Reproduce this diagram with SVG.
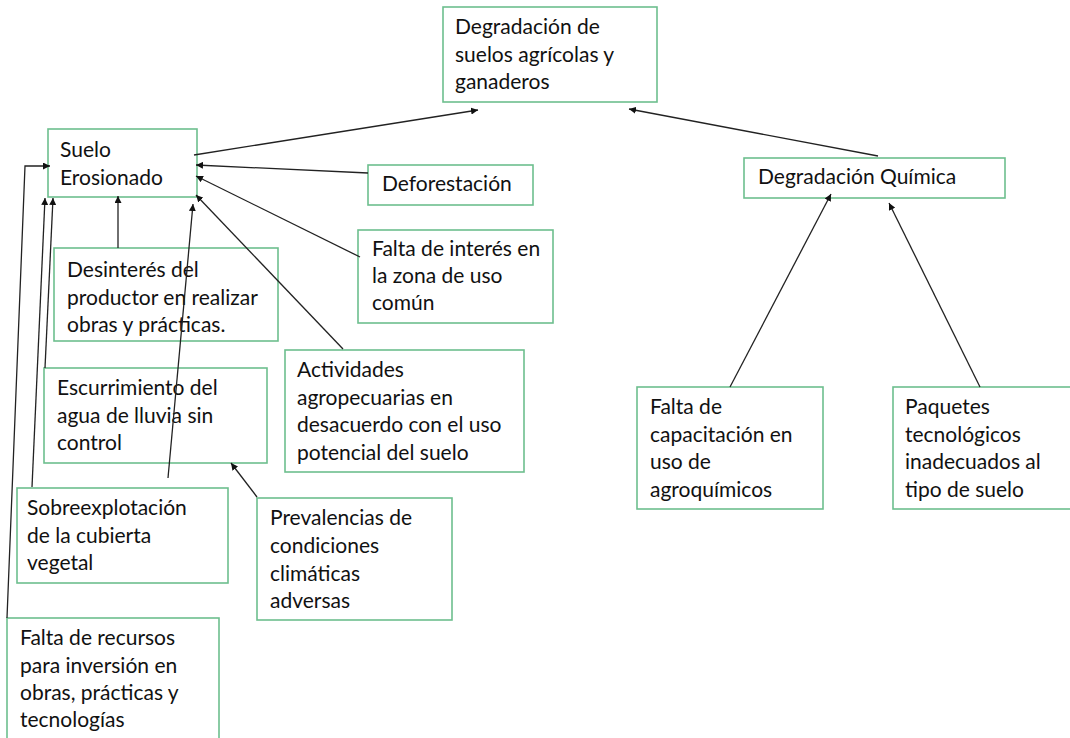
<svg xmlns="http://www.w3.org/2000/svg" width="1070" height="738" viewBox="0 0 1070 738">
<defs>
<marker id="ah" viewBox="0 0 10 10" refX="10" refY="5" markerWidth="7" markerHeight="7" orient="auto-start-reverse" markerUnits="userSpaceOnUse">
<path d="M0,0 L10,5 L0,10 z" fill="#111"/>
</marker>
<style>
.box{fill:#fff;stroke:#6dbf8e;stroke-width:1.6}
.t{font-family:Lato,"Open Sans","Liberation Sans",sans-serif;font-size:21px;fill:#111}
.c{fill:none;stroke:#222;stroke-width:1.3;marker-end:url(#ah)}
.n{fill:none;stroke:#222;stroke-width:1.3}
</style>
</defs>
<rect width="1070" height="738" fill="#fff"/>
<g id="n-top"><rect class="box" x="443" y="7" width="214" height="95"/>
<text class="t" x="455"><tspan x="455" y="34">Degradación de</tspan><tspan x="455" y="62">suelos agrícolas y</tspan><tspan x="455" y="89">ganaderos</tspan></text></g>
<g id="n-suelo"><rect class="box" x="48" y="129" width="149" height="68"/>
<text class="t"><tspan x="60" y="157">Suelo</tspan><tspan x="60" y="185">Erosionado</tspan></text></g>
<g id="n-defor"><rect class="box" x="368" y="165" width="165" height="40"/>
<text class="t" x="382" y="191">Deforestación</text></g>
<g id="n-interes"><rect class="box" x="358" y="230" width="195" height="93"/>
<text class="t"><tspan x="372" y="256">Falta de interés en</tspan><tspan x="372" y="283">la zona de uso</tspan><tspan x="372" y="310">común</tspan></text></g>
<g id="n-desin"><rect class="box" x="54" y="248" width="224" height="93"/>
<text class="t"><tspan x="67" y="277">Desinterés del</tspan><tspan x="67" y="305">productor en realizar</tspan><tspan x="67" y="332">obras y prácticas.</tspan></text></g>
<g id="n-escur"><rect class="box" x="44" y="368" width="223" height="95"/>
<text class="t"><tspan x="57" y="395">Escurrimiento del</tspan><tspan x="57" y="423">agua de lluvia sin</tspan><tspan x="57" y="450">control</tspan></text></g>
<g id="n-sobre"><rect class="box" x="17" y="488" width="211" height="95"/>
<text class="t"><tspan x="27" y="515">Sobreexplotación</tspan><tspan x="27" y="543">de la cubierta</tspan><tspan x="27" y="570">vegetal</tspan></text></g>
<g id="n-recursos"><rect class="box" x="7" y="618" width="212" height="130"/>
<text class="t"><tspan x="20" y="645">Falta de recursos</tspan><tspan x="20" y="673">para inversión en</tspan><tspan x="20" y="700">obras, prácticas y</tspan><tspan x="20" y="727">tecnologías</tspan></text></g>
<g id="n-activ"><rect class="box" x="285" y="350" width="239" height="122"/>
<text class="t"><tspan x="297" y="377">Actividades</tspan><tspan x="297" y="405">agropecuarias en</tspan><tspan x="297" y="432">desacuerdo con el uso</tspan><tspan x="297" y="460">potencial del suelo</tspan></text></g>
<g id="n-preval"><rect class="box" x="257" y="498" width="195" height="122"/>
<text class="t"><tspan x="270" y="525">Prevalencias de</tspan><tspan x="270" y="553">condiciones</tspan><tspan x="270" y="581">climáticas</tspan><tspan x="270" y="608">adversas</tspan></text></g>
<g id="n-quim"><rect class="box" x="744" y="158" width="261" height="40"/>
<text class="t" x="758" y="184">Degradación Química</text></g>
<g id="n-capac"><rect class="box" x="637" y="387" width="186" height="122"/>
<text class="t"><tspan x="650" y="414">Falta de</tspan><tspan x="650" y="442">capacitación en</tspan><tspan x="650" y="469">uso de</tspan><tspan x="650" y="497">agroquímicos</tspan></text></g>
<g id="n-paq"><rect class="box" x="893" y="387" width="180" height="122"/>
<text class="t"><tspan x="905" y="414">Paquetes</tspan><tspan x="905" y="442">tecnológicos</tspan><tspan x="905" y="469">inadecuados al</tspan><tspan x="905" y="497">tipo de suelo</tspan></text></g>
<g id="connectors">
<line class="c" x1="194" y1="155" x2="478" y2="110"/>
<line class="c" x1="878" y1="156" x2="629" y2="109"/>
<line class="c" x1="368" y1="173" x2="196" y2="165"/>
<line class="c" x1="360" y1="257" x2="196" y2="176"/>
<line class="c" x1="343" y1="349" x2="196" y2="195"/>
<line class="c" x1="118" y1="248" x2="118" y2="196"/>
<line class="c" x1="168" y1="478" x2="193" y2="204"/>
<line class="c" x1="257" y1="497" x2="231" y2="463"/>
<polyline class="c" points="7,618 25,166 50,166"/>
<line class="c" x1="32" y1="487" x2="45" y2="198"/>
<line class="c" x1="45" y1="368" x2="53" y2="198"/>
<line class="c" x1="730" y1="387" x2="831" y2="194"/>
<line class="c" x1="980" y1="387" x2="889" y2="203"/>
</g>
</svg>
